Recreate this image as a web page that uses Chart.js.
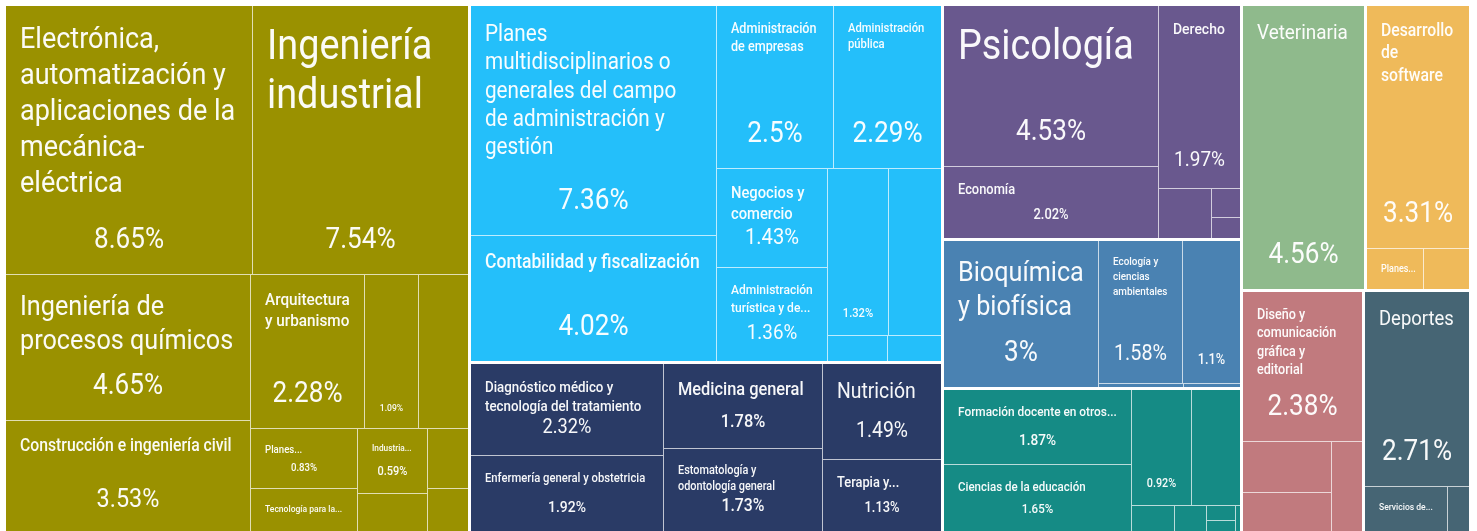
<!DOCTYPE html>
<html>
<head>
<meta charset="utf-8">
<script src="https://cdn.jsdelivr.net/npm/chart.js@4.4.1/dist/chart.umd.min.js"></script>
<style>
  html, body { margin: 0; padding: 0; background: #ffffff; }
  #wrap { width: 1477px; height: 531px; position: relative; }
</style>
</head>
<body>
<div id="wrap"><canvas id="c"></canvas></div>
<script>
// ---------------- DATA ----------------
const groupNames = [
  'Ingeniería, manufactura y construcción',
  'Administración y negocios',
  'Ciencias de la salud',
  'Ciencias sociales y derecho',
  'Ciencias naturales, matemáticas y estadística',
  'Educación',
  'Agronomía y veterinaria',
  'Tecnologías de la información y la comunicación',
  'Artes y humanidades',
  'Servicios'
];
const groupColors = ['#9a9100', '#24bffa', '#2a3b66', '#69588e', '#4a82b2', '#158b85', '#8fba8c', '#efba5a', '#c17a7e', '#466574'];

const ingNames = ['Electrónica, automatización y aplicaciones de la mecánica-eléctrica', 'Ingeniería industrial', 'Ingeniería de procesos químicos', 'Construcción e ingeniería civil', 'Arquitectura y urbanismo', '', '', 'Planes...', 'Tecnología para la...', 'Industria...', '', '', ''];
const ingValues = [8.65, 7.54, 4.65, 3.53, 2.28, 1.09, 1.0, 0.83, 0.6, 0.59, 0.35, 0.32, 0.23];
const ingShow = [1, 1, 1, 1, 1, 1, 0, 1, 0, 1, 0, 0, 0];

const admNames = ['Planes multidisciplinarios o generales del campo de administración y gestión', 'Contabilidad y fiscalización', 'Administración de empresas', 'Administración pública', 'Negocios y comercio', 'Administración turística y de...', '', '', '', ''];
const admValues = [7.36, 4.02, 2.5, 2.29, 1.43, 1.36, 1.32, 1.16, 0.2, 0.18];
const admShow = [1, 1, 1, 1, 1, 1, 1, 0, 0, 0];

const salNames = ['Diagnóstico médico y tecnología del tratamiento', 'Enfermería general y obstetricia', 'Medicina general', 'Estomatología y odontología general', 'Nutrición', 'Terapia y...'];
const salValues = [2.32, 1.92, 1.78, 1.73, 1.49, 1.13];
const salShow = [1, 1, 1, 1, 1, 1];

const socNames = ['Psicología', 'Economía', 'Derecho', '', '', ''];
const socValues = [4.53, 2.02, 1.97, 0.34, 0.11, 0.08];
const socShow = [1, 1, 1, 0, 0, 0];

const natNames = ['Bioquímica y biofísica', 'Ecología y ciencias ambientales', '', '', ''];
const natValues = [3, 1.58, 1.1, 0.045, 0.03];
const natShow = [1, 1, 1, 0, 0];

const eduNames = ['Formación docente en otros...', 'Ciencias de la educación', '', '', '', '', '', '', ''];
const eduValues = [1.87, 1.65, 0.92, 0.75, 0.15, 0.11, 0.06, 0.04, 0.02];
const eduShow = [1, 1, 1, 0, 0, 0, 0, 0, 0];

const agrNames = ['Veterinaria'];
const agrValues = [4.56];
const agrShow = [1];

const ticNames = ['Desarrollo de software', 'Planes...', ''];
const ticValues = [3.31, 0.31, 0.25];
const ticShow = [1, 0, 0];

const artNames = ['Diseño y comunicación gráfica y editorial', '', '', ''];
const artValues = [2.38, 0.6, 0.46, 0.37];
const artShow = [1, 0, 0, 0];

const serNames = ['Deportes', 'Servicios de...', ''];
const serValues = [2.71, 0.49, 0.13];
const serShow = [1, 0, 0];

const leafNames = [ingNames, admNames, salNames, socNames, natNames, eduNames, agrNames, ticNames, artNames, serNames];
const leafValues = [ingValues, admValues, salValues, socValues, natValues, eduValues, agrValues, ticValues, artValues, serValues];
const leafShow = [ingShow, admShow, salShow, socShow, natShow, eduShow, agrShow, ticShow, artShow, serShow];

// ---------------- LAYOUT (d3-style squarify) ----------------
const PHI = (1 + Math.sqrt(5)) / 2;
const sum = a => a.reduce((s, v) => s + v, 0);

function squarify(values, x0, y0, x1, y1) {
  const rects = new Array(values.length);
  const n = values.length;
  let value = sum(values), i0 = 0, i1 = 0;
  while (i0 < n) {
    const dx = x1 - x0, dy = y1 - y0;
    let sumValue = values[i1++];
    let minValue = sumValue, maxValue = sumValue;
    const alpha = Math.max(dy / dx, dx / dy) / (value * PHI);
    let beta = sumValue * sumValue * alpha;
    let minRatio = Math.max(maxValue / beta, beta / minValue);
    for (; i1 < n; ++i1) {
      const nv = values[i1];
      sumValue += nv;
      if (nv < minValue) minValue = nv;
      if (nv > maxValue) maxValue = nv;
      beta = sumValue * sumValue * alpha;
      const newRatio = Math.max(maxValue / beta, beta / minValue);
      if (newRatio > minRatio) { sumValue -= nv; break; }
      minRatio = newRatio;
    }
    if (dx < dy) {
      const ny = y0 + dy * sumValue / value;
      let x = x0; const k = (x1 - x0) / sumValue;
      for (let i = i0; i < i1; i++) { const w = values[i] * k; rects[i] = [x, y0, x + w, ny]; x += w; }
      y0 = ny;
    } else {
      const nx = x0 + dx * sumValue / value;
      let y = y0; const k = (y1 - y0) / sumValue;
      for (let i = i0; i < i1; i++) { const h = values[i] * k; rects[i] = [x0, y, nx, y + h]; y += h; }
      x0 = nx;
    }
    value -= sumValue; i0 = i1;
  }
  return rects;
}

function shrink(r, p) { return [r[0] + p, r[1] + p, r[2] - p, r[3] - p]; }

const AREA = [6, 6, 1469, 531];
const GROUP_GAP = 3, LEAF_GAP = 1;

function computeLayout() {
  const totals = leafValues.map(sum);
  const gp = GROUP_GAP / 2, lp = LEAF_GAP / 2;
  const gRects = squarify(totals, AREA[0] - gp, AREA[1] - gp, AREA[2] + gp, AREA[3] + gp).map(r => shrink(r, gp));
  return gRects.map((gr, gi) => {
    const lr = squarify(leafValues[gi], gr[0] - lp, gr[1] - lp, gr[2] + lp, gr[3] + lp).map(r => shrink(r, lp));
    return { rect: gr, leaves: lr };
  });
}

// ---------------- DRAWING ----------------
const FONT = "Roboto, 'Noto Sans', sans-serif";
const SX = 0.9; // horizontal condensing to imitate a condensed face

function mixWhite(hex, t) {
  const n = parseInt(hex.slice(1), 16);
  const r = (n >> 16) & 255, g = (n >> 8) & 255, b = n & 255;
  const m = c => Math.round(c + (255 - c) * t);
  return `rgb(${m(r)},${m(g)},${m(b)})`;
}

function setFont(ctx, f, weight) { ctx.font = `${weight} ${f}px ${FONT}`; }
const tw = (ctx, s) => ctx.measureText(s).width * SX;
function drawText(ctx, s, x, y) {
  ctx.save();
  ctx.translate(x, y);
  ctx.scale(SX, 1);
  ctx.fillText(s, 0, 0);
  ctx.restore();
}

function wrap(ctx, text, maxW) {
  const words = text.split(' ');
  const tokens = [];
  words.forEach((w, i) => {
    const parts = w.split(/(?<=-)/);
    parts.forEach((p, j) => tokens.push({ t: p, sp: (j === parts.length - 1 && i < words.length - 1) ? ' ' : '' }));
  });
  const lines = []; let cur = ''; let over = false;
  tokens.forEach(tok => {
    const cand = cur + tok.t;
    if (cur === '' || tw(ctx, cand.trimEnd()) <= maxW) {
      cur = cand + tok.sp;
    } else {
      lines.push(cur.trimEnd());
      cur = tok.t + tok.sp;
    }
  });
  if (cur.trim() !== '') lines.push(cur.trimEnd());
  lines.forEach(l => { if (tw(ctx, l) > maxW) over = true; });
  return { lines, over };
}

const lineH = f => 1.1 * f + 3;
const topPad = f => 14 + 0.2 * f;
const nameWeight = f => (f < 20 ? 500 : 400);
const valWeight = f => (f < 20 ? 500 : 400);

function drawLeafText(ctx, x0, y0, x1, y1, name, value, show) {
  const w = x1 - x0, h = y1 - y0;
  const valText = String(value) + '%';
  let vf = 0;
  if (show) {
    setFont(ctx, 100, 400);
    const wFit = (w - 30) / (tw(ctx, valText) / 100);
    vf = Math.max(9, Math.min(29, 0.3 * h - 7, wFit));
  }
  ctx.save();
  ctx.beginPath();
  ctx.rect(x0, y0, w, h);
  ctx.clip();
  ctx.fillStyle = 'rgba(255,255,255,0.96)';
  if (name) {
    let maxF = 42;
    if (show && h < 120) maxF = Math.min(maxF, vf);
    const gap = Math.max(4, Math.min(28, 0.2 * h - 14));
    const availBottom = show ? (h - (12 + 0.48 * vf) - 0.72 * vf - gap) : (h - 8);
    const maxW = w - 28;
    const byLines = {};
    let best = null;
    for (let f = maxF; f >= 9; f -= 0.5) {
      setFont(ctx, f, nameWeight(f));
      const res = wrap(ctx, name, maxW);
      const need = topPad(f) + 0.92 * f + (res.lines.length - 1) * lineH(f);
      if (!res.over && need <= availBottom) {
        const n = res.lines.length;
        if (!byLines[n]) byLines[n] = { f, lines: res.lines };
        if (!best) best = byLines[n];
      }
    }
    let chosen = best;
    if (best && byLines[1] && best.lines.length > 1 && byLines[1].f >= 0.75 * best.f && byLines[1].f >= 10.5) chosen = byLines[1];
    if (!chosen) {
      setFont(ctx, 10, 500);
      chosen = { f: 10, lines: wrap(ctx, name, maxW + 6).lines };
    }
    setFont(ctx, chosen.f, nameWeight(chosen.f));
    ctx.textAlign = 'left';
    ctx.textBaseline = 'alphabetic';
    chosen.lines.forEach((l, i) => {
      drawText(ctx, l, x0 + 14, y0 + topPad(chosen.f) + 0.72 * chosen.f + i * lineH(chosen.f));
    });
  }
  if (show) {
    setFont(ctx, vf, valWeight(vf));
    ctx.textAlign = 'center';
    ctx.textBaseline = 'alphabetic';
    drawText(ctx, valText, (x0 + x1) / 2, y1 - (12 + 0.48 * vf));
  }
  ctx.restore();
}

const layoutData = computeLayout();

const treemapPlugin = {
  id: 'treemapCells',
  beforeDatasetsDraw(chart) {
    const { ctx, scales } = chart;
    const xs = scales.x, ys = scales.y;
    const px = v => Math.round(xs.getPixelForValue(v));
    const py = v => Math.round(ys.getPixelForValue(v));
    ctx.save();
    layoutData.forEach((g, gi) => {
      const color = groupColors[gi];
      const gx0 = px(g.rect[0]), gy0 = py(g.rect[1]), gx1 = px(g.rect[2]), gy1 = py(g.rect[3]);
      ctx.fillStyle = mixWhite(color, 0.7);
      ctx.fillRect(gx0, gy0, gx1 - gx0, gy1 - gy0);
      g.leaves.forEach(r => {
        const x0 = px(r[0]), y0 = py(r[1]), x1 = px(r[2]), y1 = py(r[3]);
        if (x1 <= x0 || y1 <= y0) return;
        ctx.fillStyle = color;
        ctx.fillRect(x0, y0, x1 - x0, y1 - y0);
      });
    });
    layoutData.forEach((g, gi) => {
      g.leaves.forEach((r, li) => {
        const x0 = px(r[0]), y0 = py(r[1]), x1 = px(r[2]), y1 = py(r[3]);
        if (x1 <= x0 || y1 <= y0) return;
        drawLeafText(ctx, x0, y0, x1, y1, leafNames[gi][li], leafValues[gi][li], !!leafShow[gi][li]);
      });
    });
    ctx.restore();
  }
};

new Chart(document.getElementById('c'), {
  type: 'scatter',
  data: {
    datasets: groupNames.map((name, gi) => ({
      label: name,
      data: [],
      backgroundColor: groupColors[gi],
      pointRadius: 0
    }))
  },
  options: {
    responsive: true,
    maintainAspectRatio: false,
    animation: false,
    layout: { padding: 0 },
    plugins: { legend: { display: false }, tooltip: { enabled: false } },
    scales: {
      x: { type: 'linear', display: false, min: 0, max: 1477 },
      y: { type: 'linear', display: false, min: 0, max: 531, reverse: true }
    }
  },
  plugins: [treemapPlugin]
});
</script>
</body>
</html>
